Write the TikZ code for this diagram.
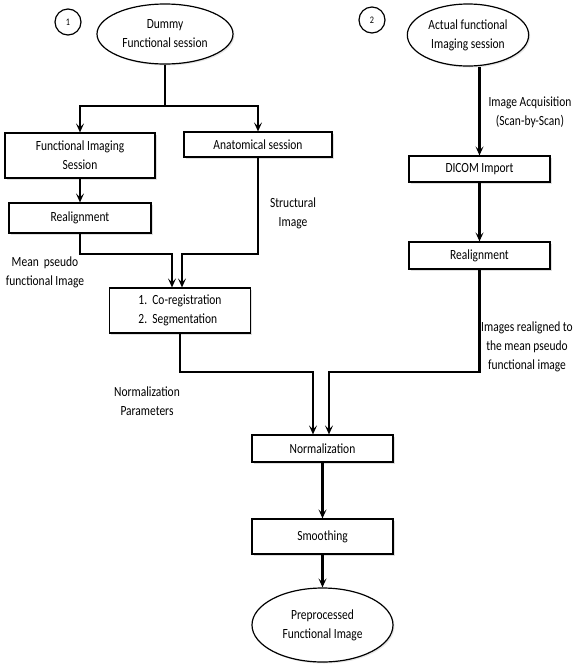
\documentclass[tikz,border=0pt]{standalone}
\usepackage{fontspec}
\setmainfont[FakeStretch=0.82]{Carlito}
\usetikzlibrary{arrows.meta,shapes.geometric,shadows}

\begin{document}
\begin{tikzpicture}[x=1pt,y=-1pt,
  every node/.style={font=\fontsize{14}{19}\selectfont,align=center},
  box/.style={draw,line width=1.2pt,fill=white,inner sep=2pt,drop shadow={opacity=0.25,shadow xshift=1.5pt,shadow yshift=-1.5pt}},
  oval/.style={ellipse,draw,line width=1.2pt,fill=white,drop shadow={opacity=0.2,shadow xshift=1.5pt,shadow yshift=-1.5pt}},
  num/.style={circle,draw,line width=1.2pt,minimum size=26pt,inner sep=0pt,font=\fontsize{10}{12}\selectfont},
  flow/.style={line width=2.4pt},
  arr/.style={flow,-{Stealth[length=9pt,width=8pt,inset=4pt]}}]
\useasboundingbox (0,0) rectangle (577,665);

\node[num] (one) at (68,22) {1};
\node[num] (two) at (372,20) {2};
\node[oval,minimum width=136pt,minimum height=60pt] (dummy) at (165,34) {Dummy\\Functional session};
\node[oval,minimum width=110pt,minimum height=62pt] (actual) at (468,35) {Actual functional\\Imaging session};

\node[box,minimum width=150pt,minimum height=45pt] (funcimg) at (80,155.5) {Functional Imaging\\Session};
\node[box,minimum width=148pt,minimum height=25pt] (anat) at (258,144.5) {Anatomical session};
\node[box,minimum width=142pt,minimum height=30pt] (realign1) at (80,218) {Realignment};
\node[box,minimum width=141pt,minimum height=45pt,align=left] (coreg) at (180,310.5) {1.\ \ Co-registration\\2.\ \ Segmentation};
\node[box,minimum width=141pt,minimum height=26pt] (dicom) at (479.5,169) {DICOM Import};
\node[box,minimum width=141pt,minimum height=27pt] (realign2) at (479.5,255.5) {Realignment};
\node[box,minimum width=141pt,minimum height=27pt] (norm) at (322.5,448.5) {Normalization};
\node[box,minimum width=141pt,minimum height=35pt] (smooth) at (322.5,536.5) {Smoothing};
\node[oval,minimum width=141pt,minimum height=74pt] (prep) at (322.5,625) {Preprocessed\\Functional Image};

\node (meanlbl) at (45,272) {Mean\ \ pseudo\\functional Image};
\node (structlbl) at (293,213) {Structural\\Image};
\node (acqlbl) at (530,112) {Image Acquisition\\(Scan-by-Scan)};
\node (reallbl) at (527,347) {Images realigned to\\the mean pseudo\\functional image};
\node (normlbl) at (147,401) {Normalization\\Parameters};

\coordinate (split) at (165,106);
\coordinate (m1) at (172,254);
\coordinate (m2) at (182,254);
\coordinate (n1) at (313,372);
\coordinate (n2) at (329,372);

\draw[flow] (dummy.south) -- (split);
\draw[arr] (split) -| (funcimg.north);
\draw[arr] (split) -| (anat.north);
\draw[arr] (funcimg) -- (realign1);
\draw[arr] (realign1.south) |- (m1) -- (m1 |- coreg.north);
\draw[arr] (anat.south) |- (m2) -- (m2 |- coreg.north);
\draw[arr] (actual.south -| dicom.north) -- (dicom.north);
\draw[arr] (dicom) -- (realign2);
\draw[arr] (coreg.south) |- (n1) -- (n1 |- norm.north);
\draw[arr] (realign2.south) |- (n2) -- (n2 |- norm.north);
\draw[arr] (norm) -- (smooth);
\draw[arr] (smooth) -- (prep);
\end{tikzpicture}
\end{document}
